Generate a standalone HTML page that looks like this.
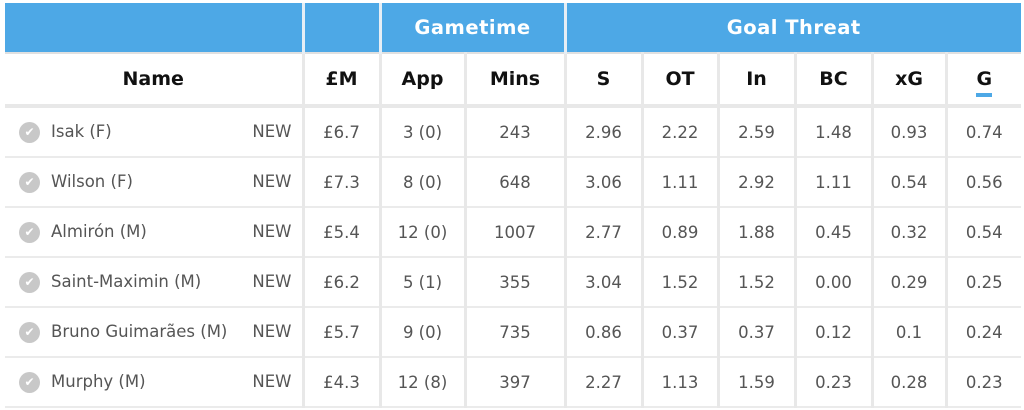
<!DOCTYPE html>
<html><head><style>
body{margin:0;background:#fff;width:1024px;height:410px;overflow:hidden;font-family:"DejaVu Sans","Liberation Sans",sans-serif;}
.t{position:absolute;left:5px;top:3px;}
table{border-collapse:collapse;table-layout:fixed;}
td,th{padding:0;text-align:center;border-left:3px solid #e8e8e8;}
tr.g th{background:#4da8e6;color:#fff;height:49px;font-size:19.5px;font-weight:bold;border-left:3px solid #e6eef5;letter-spacing:0.5px}
tr.h th{height:50px;font-size:19px;font-weight:bold;color:#111;border-bottom:4px solid #e8e8e8;border-top:2px solid #e0e0e0}
tr.r td{height:48px;font-size:16.5px;color:#555;border-bottom:2px solid #ebebeb}
tr td:first-child,tr th:first-child{border-left:none}
.nm{text-align:left;position:relative}
.ck{position:absolute;left:14px;top:14px;width:21px;height:21px;border-radius:50%;background:#c8c8c8;color:#fff;font-size:12px;line-height:21px;text-align:center}
.nm span.n{position:absolute;left:46px;top:14px}
.nm span.w{position:absolute;right:10px;top:14px}
u{text-decoration:none;border-bottom:4px solid #4da8e6;padding-bottom:3px}
</style></head><body>
<table class="t">
<colgroup><col style="width:298px"><col style="width:77px"><col style="width:85px"><col style="width:100px"><col style="width:77px"><col style="width:76px"><col style="width:77px"><col style="width:77px"><col style="width:74px"><col style="width:75px"></colgroup>
<tr class="g"><th></th><th></th><th colspan="2">Gametime</th><th colspan="6">Goal Threat</th></tr>
<tr class="h"><th>Name</th><th>£M</th><th>App</th><th>Mins</th><th>S</th><th>OT</th><th>In</th><th>BC</th><th>xG</th><th><u>G</u></th></tr>
<tr class="r"><td class="nm"><span class="ck">✔</span><span class="n">Isak (F)</span><span class="w">NEW</span></td><td>£6.7</td><td>3 (0)</td><td>243</td><td>2.96</td><td>2.22</td><td>2.59</td><td>1.48</td><td>0.93</td><td>0.74</td></tr>
<tr class="r"><td class="nm"><span class="ck">✔</span><span class="n">Wilson (F)</span><span class="w">NEW</span></td><td>£7.3</td><td>8 (0)</td><td>648</td><td>3.06</td><td>1.11</td><td>2.92</td><td>1.11</td><td>0.54</td><td>0.56</td></tr>
<tr class="r"><td class="nm"><span class="ck">✔</span><span class="n">Almirón (M)</span><span class="w">NEW</span></td><td>£5.4</td><td>12 (0)</td><td>1007</td><td>2.77</td><td>0.89</td><td>1.88</td><td>0.45</td><td>0.32</td><td>0.54</td></tr>
<tr class="r"><td class="nm"><span class="ck">✔</span><span class="n">Saint-Maximin (M)</span><span class="w">NEW</span></td><td>£6.2</td><td>5 (1)</td><td>355</td><td>3.04</td><td>1.52</td><td>1.52</td><td>0.00</td><td>0.29</td><td>0.25</td></tr>
<tr class="r"><td class="nm"><span class="ck">✔</span><span class="n">Bruno Guimarães (M)</span><span class="w">NEW</span></td><td>£5.7</td><td>9 (0)</td><td>735</td><td>0.86</td><td>0.37</td><td>0.37</td><td>0.12</td><td>0.1</td><td>0.24</td></tr>
<tr class="r"><td class="nm"><span class="ck">✔</span><span class="n">Murphy (M)</span><span class="w">NEW</span></td><td>£4.3</td><td>12 (8)</td><td>397</td><td>2.27</td><td>1.13</td><td>1.59</td><td>0.23</td><td>0.28</td><td>0.23</td></tr>
</table>
</body></html>
